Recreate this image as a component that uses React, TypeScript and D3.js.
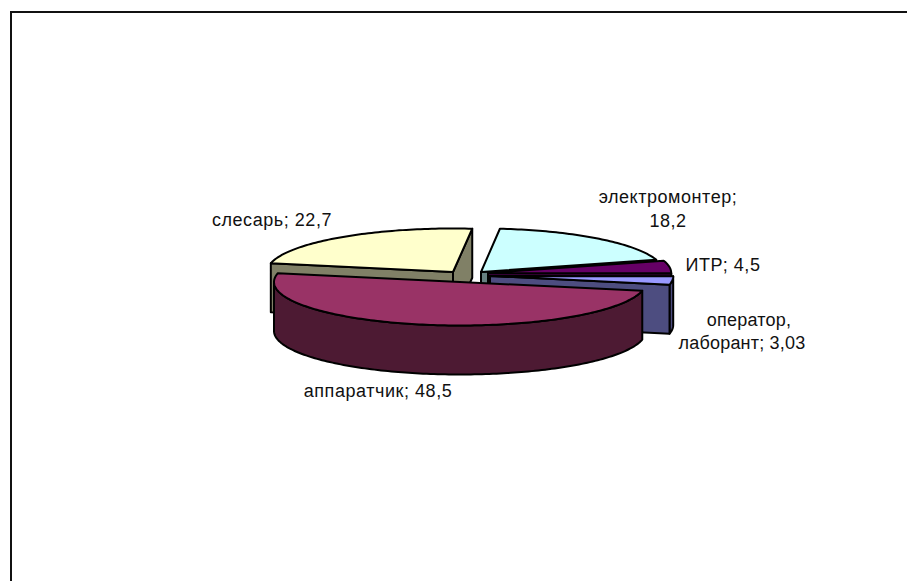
import React from "react";
import * as d3 from "d3";

// Staff shares by occupation
const professions = ["аппаратчик", "слесарь", "электромонтер", "ИТР", "оператор, лаборант"];
const shares = [48.5, 22.7, 18.2, 4.5, 3.03];
const topColors = ["#993366", "#ffffcc", "#ccffff", "#660066", "#9999ff"];
const sideColors = ["#4d1a33", "#808066", "#668080", "#330033", "#4d4d80"];

// Exploded wedge displacement from the pie centre, in pixels
const PIE_CENTER = { x: 470, y: 274 };
const explodeX = [-10, -17, 11, 18, 20];
const explodeY = [8, -2, -2, -1, 2];
// Rear wedges sit slightly further away and read a little narrower
const widthScale = [1, 1, 0.982, 0.985, 0.985];

const RX = 186;
const RY = 43.5;
const DEPTH = 49;
const START_ANGLE = (11.5 * Math.PI) / 180;
const VIEWER_DISTANCE = 3;

// Label lines: text, anchor x, baseline y, tracking
const labelBlocks = [
  { lines: ["аппаратчик; 48,5"], x: [378], y: [397], tracking: 0.55 },
  { lines: ["слесарь; 22,7"], x: [272], y: [226], tracking: 0.55 },
  { lines: ["электромонтер;", "18,2"], x: [668, 668], y: [203, 227], tracking: 0.55 },
  { lines: ["ИТР; 4,5"], x: [723], y: [271], tracking: 0.55 },
  { lines: ["оператор,", "лаборант; 3,03"], x: [749, 742], y: [326, 349], tracking: 0.2 },
];

type Pt = [number, number];

const pieLayout = d3
  .pie<number>()
  .sort(null)
  .startAngle(START_ANGLE)
  .endAngle(START_ANGLE + 2 * Math.PI);

const rimPoint = (i: number, a: number, drop = 0): Pt => [
  PIE_CENTER.x + explodeX[i] + RX * widthScale[i] * Math.cos(a),
  PIE_CENTER.y + explodeY[i] + RY * Math.sin(a) + drop,
];

const hub = (i: number, drop = 0): Pt => [
  PIE_CENTER.x + explodeX[i],
  PIE_CENTER.y + explodeY[i] + drop,
];

const sweep = (a0: number, a1: number) => {
  const n = Math.max(2, Math.ceil((a1 - a0) / 0.02));
  return d3.range(n + 1).map((k) => a0 + ((a1 - a0) * k) / n);
};

const path = d3.line<Pt>();
const closed = (pts: Pt[]) => path(pts) + "Z";

// Part of a wedge's rim that faces the viewer (screen angle 0..PI, modulo a full turn)
const frontRange = (a0: number, a1: number): [number, number] | null => {
  const TAU = 2 * Math.PI;
  for (const k of [0, 1]) {
    const lo = Math.max(a0, k * TAU);
    const hi = Math.min(a1, k * TAU + Math.PI);
    if (hi > lo) return [lo, hi];
  }
  return null;
};

// A radial cut is visible when its outward normal points toward the viewer
const cutVisible = (i: number, a: number, side: 1 | -1) => {
  const nx = -Math.sin(a) * side;
  const ny = Math.cos(a) * side;
  const hx = explodeX[i] / RX;
  const hy = explodeY[i] / RY;
  return nx * (0 - hx) + ny * (VIEWER_DISTANCE - hy) > 0;
};

function Wedge({ i, a0, a1 }: { i: number; a0: number; a1: number }) {
  const rim = sweep(a0, a1).map((a) => rimPoint(i, a));
  const front = frontRange(a0, a1);
  const cut = (a: number) => closed([hub(i), rimPoint(i, a), rimPoint(i, a, DEPTH), hub(i, DEPTH)]);
  const wall = front
    ? closed([
        ...sweep(front[0], front[1]).map((a) => rimPoint(i, a)),
        ...sweep(front[0], front[1])
          .reverse()
          .map((a) => rimPoint(i, a, DEPTH)),
      ])
    : null;
  const common = { stroke: "#000", strokeWidth: 2, strokeLinejoin: "round" as const };
  return (
    <g>
      {wall && <path d={wall} fill={sideColors[i]} {...common} />}
      {cutVisible(i, a0, -1) && <path d={cut(a0)} fill={sideColors[i]} {...common} />}
      {cutVisible(i, a1, 1) && <path d={cut(a1)} fill={sideColors[i]} {...common} />}
      <path d={closed([hub(i), ...rim])} fill={topColors[i]} {...common} />
    </g>
  );
}

export default function App() {
  const arcs = pieLayout(shares);
  // Painter's order: rear wedges first, the large front wedge last
  const order = [1, 2, 3, 4, 0];
  return (
    <svg
      width={907}
      height={581}
      style={{ position: "absolute", left: 0, top: 0, background: "#fff" }}
      role="img"
      aria-label={professions.join(", ")}
    >
      <path d="M907,12H11V581" fill="none" stroke="#111" strokeWidth={2} />
      {order.map((i) => (
        <Wedge key={professions[i]} i={i} a0={arcs[i].startAngle} a1={arcs[i].endAngle} />
      ))}
      {labelBlocks.map((b, i) => (
        <g key={i}>
          {b.lines.map((t, j) => (
            <text
              key={j}
              x={b.x[j]}
              y={b.y[j]}
              textAnchor="middle"
              fontFamily="'Liberation Sans', Arial, sans-serif"
              fontSize={18}
              letterSpacing={b.tracking}
              fill="#111"
            >
              {t}
            </text>
          ))}
        </g>
      ))}
    </svg>
  );
}
